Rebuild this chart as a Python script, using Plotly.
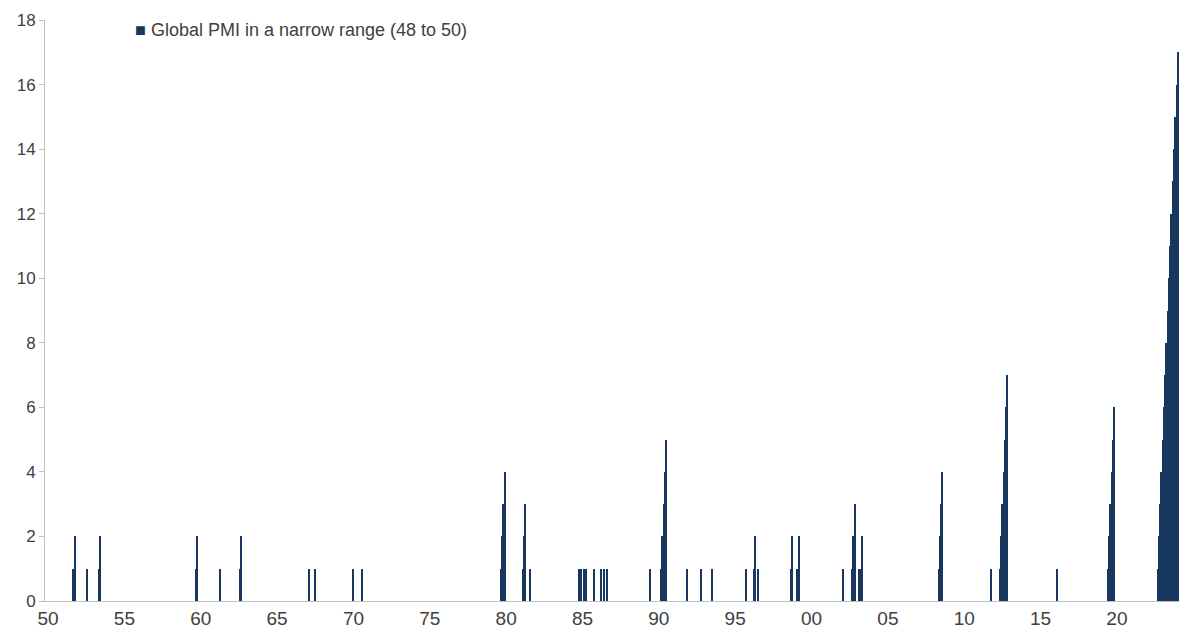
import plotly.graph_objects as go

# Months (first day) and count of consecutive months with global PMI between 48 and 50
months = [
    "1951-09", "1951-10", "1952-08", "1953-05", "1953-06",
    "1959-09", "1959-10", "1961-04", "1962-08", "1962-09",
    "1967-02", "1967-07", "1970-01", "1970-08",
    "1979-09", "1979-10", "1979-11", "1979-12",
    "1981-02", "1981-03", "1981-04", "1981-08",
    "1984-10", "1984-12", "1985-02", "1985-04", "1985-10",
    "1986-04", "1986-06", "1986-08", "1989-06",
    "1990-03", "1990-04", "1990-05", "1990-06", "1990-07",
    "1991-11", "1992-10", "1993-07", "1995-10",
    "1996-04", "1996-05", "1996-07",
    "1998-09", "1998-10", "1999-02", "1999-03",
    "2002-02", "2002-09", "2002-10", "2002-11",
    "2003-02", "2003-04", "2003-05",
    "2008-05", "2008-06", "2008-07", "2008-08",
    "2011-10",
    "2012-05", "2012-06", "2012-07", "2012-08", "2012-09", "2012-10", "2012-11",
    "2016-02",
    "2019-06", "2019-07", "2019-08", "2019-09", "2019-10", "2019-11",
    "2022-09", "2022-10", "2022-11", "2022-12",
    "2023-01", "2023-02", "2023-03", "2023-04", "2023-05", "2023-06",
    "2023-07", "2023-08", "2023-09", "2023-10", "2023-11", "2023-12",
    "2024-01",
]
counts = [
    1, 2, 1, 1, 2,
    1, 2, 1, 1, 2,
    1, 1, 1, 1,
    1, 2, 3, 4,
    1, 2, 3, 1,
    1, 1, 1, 1, 1,
    1, 1, 1, 1,
    1, 2, 3, 4, 5,
    1, 1, 1, 1,
    1, 2, 1,
    1, 2, 1, 2,
    1, 1, 2, 3,
    1, 1, 2,
    1, 2, 3, 4,
    1,
    1, 2, 3, 4, 5, 6, 7,
    1,
    1, 2, 3, 4, 5, 6,
    1, 2, 3, 4,
    5, 6, 7, 8, 9, 10,
    11, 12, 13, 14, 15, 16,
    17,
]

tick_years = list(range(1950, 2021, 5))
tick_labels = ["50", "55", "60", "65", "70", "75", "80", "85", "90", "95",
               "00", "05", "10", "15", "20"]
series_name = "Global PMI in a narrow range (48 to 50)"

bar_color = "#17375e"
text_color = "#404040"
axis_color = "#bfbfbf"
font_family = "Liberation Sans, Arial, sans-serif"

fig = go.Figure()
fig.add_trace(go.Bar(
    x=[m + "-01" for m in months],
    y=counts,
    name=series_name,
    marker=dict(color=bar_color, line=dict(width=0)),
    width=[30 * 24 * 3600 * 1000] * len(months),
    showlegend=False,
))

fig.add_annotation(
    xref="paper", yref="paper", x=0.078, y=0.983, xanchor="left", yanchor="middle",
    text=f"<span style='color:{bar_color}'>■</span> {series_name}",
    showarrow=False,
    font=dict(family=font_family, size=18, color=text_color),
)

fig.update_layout(
    width=1179, height=638,
    margin=dict(l=45, r=0, t=20, b=37),
    paper_bgcolor="white", plot_bgcolor="white",
    bargap=0,
    font=dict(family=font_family, color=text_color),
    xaxis=dict(
        type="date",
        range=["1949-10-20", "2024-01-25"],
        tickvals=[f"{y}-01-01" for y in tick_years],
        ticktext=tick_labels,
        showgrid=False, zeroline=False,
        showline=True, linecolor=axis_color, linewidth=1,
        ticks="", tickfont=dict(size=19, color=text_color),
    ),
    yaxis=dict(
        range=[0, 18], dtick=2, tick0=0,
        showgrid=False, zeroline=False,
        showline=True, linecolor=axis_color, linewidth=1,
        ticks="outside", ticklen=5, tickcolor=axis_color,
        tickfont=dict(size=17, color=text_color),
    ),
)

fig.write_html(
    "out.html",
    config={"displayModeBar": False},
    post_script="document.body.style.margin='0';document.body.style.overflow='hidden';",
)
